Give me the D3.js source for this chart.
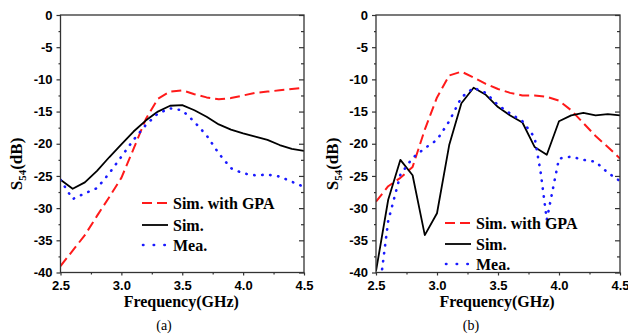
<!DOCTYPE html>
<html>
<head>
<meta charset="utf-8">
<script src="https://cdn.jsdelivr.net/npm/d3@7"></script>
<style>
  html, body { margin: 0; padding: 0; background: #fff; }
  svg { display: block; }
  .tick text { font-family: "Liberation Sans", Arial, sans-serif; font-weight: bold; font-size: 13px; fill: #000; }
  .domain, .tick line { stroke: #333; stroke-width: 1.2; }
</style>
</head>
<body>
<svg id="chart" width="628" height="335"></svg>
<script>
// Frequency axis ticks and S54 axis ticks
const freqTicks = [2.5, 3.0, 3.5, 4.0, 4.5];
const freqMinor = [2.75, 3.25, 3.75, 4.25];
const dbTicks = [0, -5, -10, -15, -20, -25, -30, -35, -40];
const dbMinor = [-2.5, -7.5, -12.5, -17.5, -22.5, -27.5, -32.5, -37.5];

// Panel (a): frequency points and S54 in dB
const aFreqSimGPA = [2.5, 2.6, 2.7, 2.8, 2.9, 3.0, 3.1, 3.2, 3.3, 3.4, 3.5, 3.6, 3.7, 3.8, 3.9, 4.0, 4.1, 4.2, 4.3, 4.4, 4.5];
const aSimGPA     = [-39.0, -36.6, -34.2, -31.2, -28.3, -25.3, -20.8, -16.2, -13.0, -11.9, -11.7, -12.3, -12.8, -13.1, -12.9, -12.5, -12.1, -11.9, -11.7, -11.5, -11.3];
const aFreqSim    = [2.5, 2.6, 2.7, 2.8, 2.9, 3.0, 3.1, 3.2, 3.3, 3.4, 3.5, 3.6, 3.7, 3.8, 3.9, 4.0, 4.1, 4.2, 4.3, 4.4, 4.5];
const aSim        = [-25.6, -27.0, -26.0, -24.2, -22.1, -20.1, -18.1, -16.4, -15.0, -14.1, -14.0, -14.8, -15.8, -17.0, -17.8, -18.4, -18.9, -19.4, -20.2, -20.8, -21.1];
const aFreqMea    = [2.5, 2.6, 2.7, 2.8, 2.9, 3.0, 3.1, 3.2, 3.3, 3.4, 3.5, 3.6, 3.7, 3.8, 3.9, 4.0, 4.1, 4.2, 4.3, 4.4, 4.5];
const aMea        = [-25.6, -28.6, -27.7, -26.9, -24.6, -22.0, -19.4, -17.1, -15.3, -14.5, -14.8, -16.6, -18.7, -21.5, -23.8, -24.6, -24.9, -24.8, -25.1, -25.9, -26.7];

// Panel (b): frequency points and S54 in dB
const bFreqSimGPA = [2.5, 2.6, 2.7, 2.8, 2.9, 3.0, 3.1, 3.2, 3.3, 3.4, 3.5, 3.6, 3.7, 3.8, 3.9, 4.0, 4.1, 4.2, 4.3, 4.4, 4.5];
const bSimGPA     = [-29.0, -26.6, -25.3, -23.6, -17.8, -12.8, -9.4, -8.8, -9.7, -10.7, -11.5, -12.1, -12.5, -12.5, -12.7, -13.3, -14.8, -16.8, -18.8, -20.5, -22.3];
const bFreqSim    = [2.5, 2.6, 2.7, 2.8, 2.9, 3.0, 3.1, 3.2, 3.3, 3.4, 3.5, 3.6, 3.7, 3.8, 3.9, 4.0, 4.1, 4.2, 4.3, 4.4, 4.5];
const bSim        = [-39.8, -28.7, -22.5, -24.9, -34.2, -30.8, -20.2, -13.7, -11.3, -12.4, -14.3, -15.6, -16.7, -20.5, -21.7, -16.5, -15.6, -15.2, -15.6, -15.4, -15.6];
const bFreqMea    = [2.55, 2.6, 2.7, 2.8, 2.9, 3.0, 3.1, 3.2, 3.3, 3.4, 3.5, 3.6, 3.7, 3.8, 3.85, 3.9, 3.95, 4.0, 4.1, 4.2, 4.3, 4.4, 4.5];
const bMea        = [-39.5, -32.0, -24.8, -22.2, -20.7, -19.4, -16.5, -12.8, -11.3, -12.1, -14.0, -15.3, -16.5, -19.0, -24.5, -31.8, -27.0, -22.3, -22.0, -22.5, -22.8, -24.5, -25.8];

const seriesNames = ["Sim. with GPA", "Sim.", "Mea."];
const seriesStyle = [
  { color: "#ff1a1a", width: 2, dash: "10,5", cap: "butt" },
  { color: "#000000", width: 1.8, dash: null, cap: "butt" },
  { color: "#1a1aff", width: 2.6, dash: "0.4,7.6", cap: "round" }
];

const svg = d3.select("#chart");

function zip(xs, ys) { return xs.map((x, i) => [x, ys[i]]); }

function drawPanel(cfg) {
  const x = d3.scaleLinear().domain([2.5, 4.5]).range([cfg.x0, cfg.x1]);
  const y = d3.scaleLinear().domain([-40, 0]).range([272.5, 15]);
  const g = svg.append("g");

  const clipId = "clip-" + cfg.id;
  svg.append("defs").append("clipPath").attr("id", clipId)
    .append("rect").attr("x", cfg.x0).attr("y", 15)
    .attr("width", cfg.x1 - cfg.x0).attr("height", 272.5 - 15);

  // curves
  const line = d3.line().x(d => x(d[0])).y(d => y(d[1]));
  const curves = g.append("g").attr("clip-path", `url(#${clipId})`);
  cfg.series.forEach((s, i) => {
    const st = seriesStyle[i];
    curves.append("path")
      .datum(zip(s[0], s[1]))
      .attr("fill", "none")
      .attr("stroke", st.color)
      .attr("stroke-width", st.width)
      .attr("stroke-dasharray", st.dash)
      .attr("stroke-linecap", st.cap)
      .attr("stroke-linejoin", "round")
      .attr("d", line);
  });

  // left axis: outward ticks with labels
  g.append("g").attr("transform", `translate(${cfg.x0},0)`)
    .call(d3.axisLeft(y).tickValues(dbTicks).tickSize(4).tickPadding(4).tickFormat(d => String(d)))
    .call(a => a.select(".domain").remove());
  g.append("g").attr("transform", `translate(${cfg.x0},0)`)
    .call(d3.axisLeft(y).tickValues(dbMinor).tickSize(2).tickFormat(""))
    .call(a => a.select(".domain").remove());

  // bottom axis: outward ticks with labels
  g.append("g").attr("transform", "translate(0,272.5)")
    .call(d3.axisBottom(x).tickValues(freqTicks).tickSize(3).tickPadding(5).tickFormat(d3.format(".1f")))
    .call(a => a.select(".domain").remove());
  g.append("g").attr("transform", "translate(0,272.5)")
    .call(d3.axisBottom(x).tickValues(freqMinor).tickSize(2).tickFormat(""))
    .call(a => a.select(".domain").remove());

  // right side: inward ticks only
  g.append("g").attr("transform", `translate(${cfg.x1},0)`)
    .call(d3.axisLeft(y).tickValues(dbTicks).tickSize(5).tickFormat(""))
    .call(a => a.select(".domain").remove());
  g.append("g").attr("transform", `translate(${cfg.x1},0)`)
    .call(d3.axisLeft(y).tickValues(dbMinor).tickSize(3).tickFormat(""))
    .call(a => a.select(".domain").remove());

  // frame
  g.append("rect").attr("x", cfg.x0).attr("y", 15)
    .attr("width", cfg.x1 - cfg.x0).attr("height", 272.5 - 15)
    .attr("fill", "none").attr("stroke", "#333").attr("stroke-width", 1.3);

  // axis titles
  g.append("text")
    .attr("x", (cfg.x0 + cfg.x1) / 2 - 1).attr("y", 307)
    .attr("text-anchor", "middle")
    .style("font-family", "'Liberation Serif', 'Times New Roman', serif")
    .style("font-weight", "bold").style("font-size", "16px")
    .text("Frequency(GHz)");

  const yt = g.append("text")
    .attr("transform", `translate(${cfg.ylabX},164) rotate(-90)`)
    .attr("text-anchor", "middle")
    .style("font-family", "'Liberation Serif', 'Times New Roman', serif")
    .style("font-weight", "bold").style("font-size", "17px");
  yt.append("tspan").text("S");
  yt.append("tspan").attr("dy", 4).style("font-size", "11px").text("54");
  yt.append("tspan").attr("dy", -4).text("(dB)");

  // panel caption
  g.append("text")
    .attr("x", cfg.capX).attr("y", 330)
    .attr("text-anchor", "middle")
    .style("font-family", "'Liberation Serif', 'Times New Roman', serif")
    .style("font-size", "14px")
    .text(cfg.caption);

  // legend
  const lg = g.append("g");
  seriesNames.forEach((name, i) => {
    const st = seriesStyle[i];
    const ly = cfg.legY[i];
    lg.append("line")
      .attr("x1", cfg.legX + (i === 2 ? 1 : 0)).attr("x2", cfg.legX + 26)
      .attr("y1", ly).attr("y2", ly)
      .attr("stroke", st.color).attr("stroke-width", st.width)
      .attr("stroke-dasharray", i === 2 ? "0.4,10.3" : st.dash)
      .attr("stroke-linecap", st.cap);
    lg.append("text")
      .attr("x", cfg.legX + 31).attr("y", ly + 5.5)
      .style("font-family", "'Liberation Serif', 'Times New Roman', serif")
      .style("font-weight", "bold").style("font-size", "16px")
      .text(name);
  });
}

drawPanel({
  id: "a", x0: 60.5, x1: 304, ylabX: 22, capX: 164, caption: "(a)",
  legX: 142, legY: [203, 225, 245],
  series: [[aFreqSimGPA, aSimGPA], [aFreqSim, aSim], [aFreqMea, aMea]]
});

drawPanel({
  id: "b", x0: 376, x1: 620, ylabX: 338, capX: 471, caption: "(b)",
  legX: 445, legY: [223, 244, 264],
  series: [[bFreqSimGPA, bSimGPA], [bFreqSim, bSim], [bFreqMea, bMea]]
});
</script>
</body>
</html>
